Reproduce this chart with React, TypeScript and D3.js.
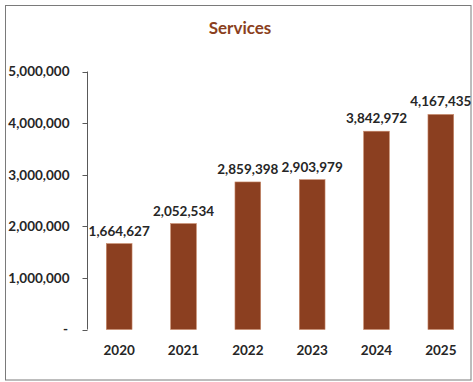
import React from "react";
import * as d3 from "d3";

const title = "Services";
const years = ["2020", "2021", "2022", "2023", "2024", "2025"];
const values = [1664627, 2052534, 2859398, 2903979, 3842972, 4167435];
const yTicks = [0, 1000000, 2000000, 3000000, 4000000, 5000000];

const W = 473;
const H = 382;
const FONT = "Lato, 'Open Sans', sans-serif";
const BAR = "#8B3F20";
const TEXT = "#262626";
const FS = 13.5;

export default function App() {
  const x = d3
    .scaleBand<string>()
    .domain(years)
    .range([87, 473])
    .paddingInner(0.6)
    .paddingOuter(0.3);
  const y = d3.scaleLinear().domain([0, 5000000]).range([329.5, 71.5]);
  const fmt = d3.format(",");
  const x0 = 87;

  return (
    <svg
      width={W}
      height={H}
      style={{ position: "absolute", left: 0, top: 0 }}
      fontFamily={FONT}
    >
      <rect x={0} y={0} width={W} height={H} fill="#fff" />
      <rect
        x={5.5}
        y={5.5}
        width={465.5}
        height={374.5}
        fill="none"
        stroke="#7a7a7a"
        strokeWidth={1}
      />
      <text
        x={240}
        y={34}
        textAnchor="middle"
        fontSize={17}
        fontWeight="bold"
        fill={BAR}
      >
        {title}
      </text>
      {/* y axis */}
      <line x1={x0 + 0.5} x2={x0 + 0.5} y1={y(5000000)} y2={y(0)} stroke="#595959" />
      {yTicks.map((t) => (
        <g key={t}>
          <line
            x1={x0 - 4.5}
            x2={x0 + 0.5}
            y1={Math.round(y(t)) + 0.5}
            y2={Math.round(y(t)) + 0.5}
            stroke="#595959"
          />
          <text
            x={t === 0 ? 68 : 69.5}
            y={y(t) + 4.8}
            textAnchor="end"
            fontSize={FS}
            fontWeight="bold"
            fill={TEXT}
          >
            {t === 0 ? "-" : fmt(t)}
          </text>
        </g>
      ))}
      {years.map((yr, i) => {
        const bx = x(yr)!;
        const bw = x.bandwidth();
        const v = values[i];
        return (
          <g key={yr}>
            <rect
              x={bx}
              y={y(v)}
              width={bw}
              height={y(0) - y(v)}
              fill={BAR}
              stroke="#c98a6c"
              strokeWidth={0.6}
            />
            <text
              x={bx + bw / 2}
              y={y(v) - 8}
              textAnchor="middle"
              fontSize={FS}
              fontWeight="bold"
              fill={TEXT}
            >
              {fmt(v)}
            </text>
            <text
              x={bx + bw / 2}
              y={354.5}
              textAnchor="middle"
              fontSize={FS}
              fontWeight="bold"
              fill={TEXT}
            >
              {yr}
            </text>
          </g>
        );
      })}
    </svg>
  );
}
